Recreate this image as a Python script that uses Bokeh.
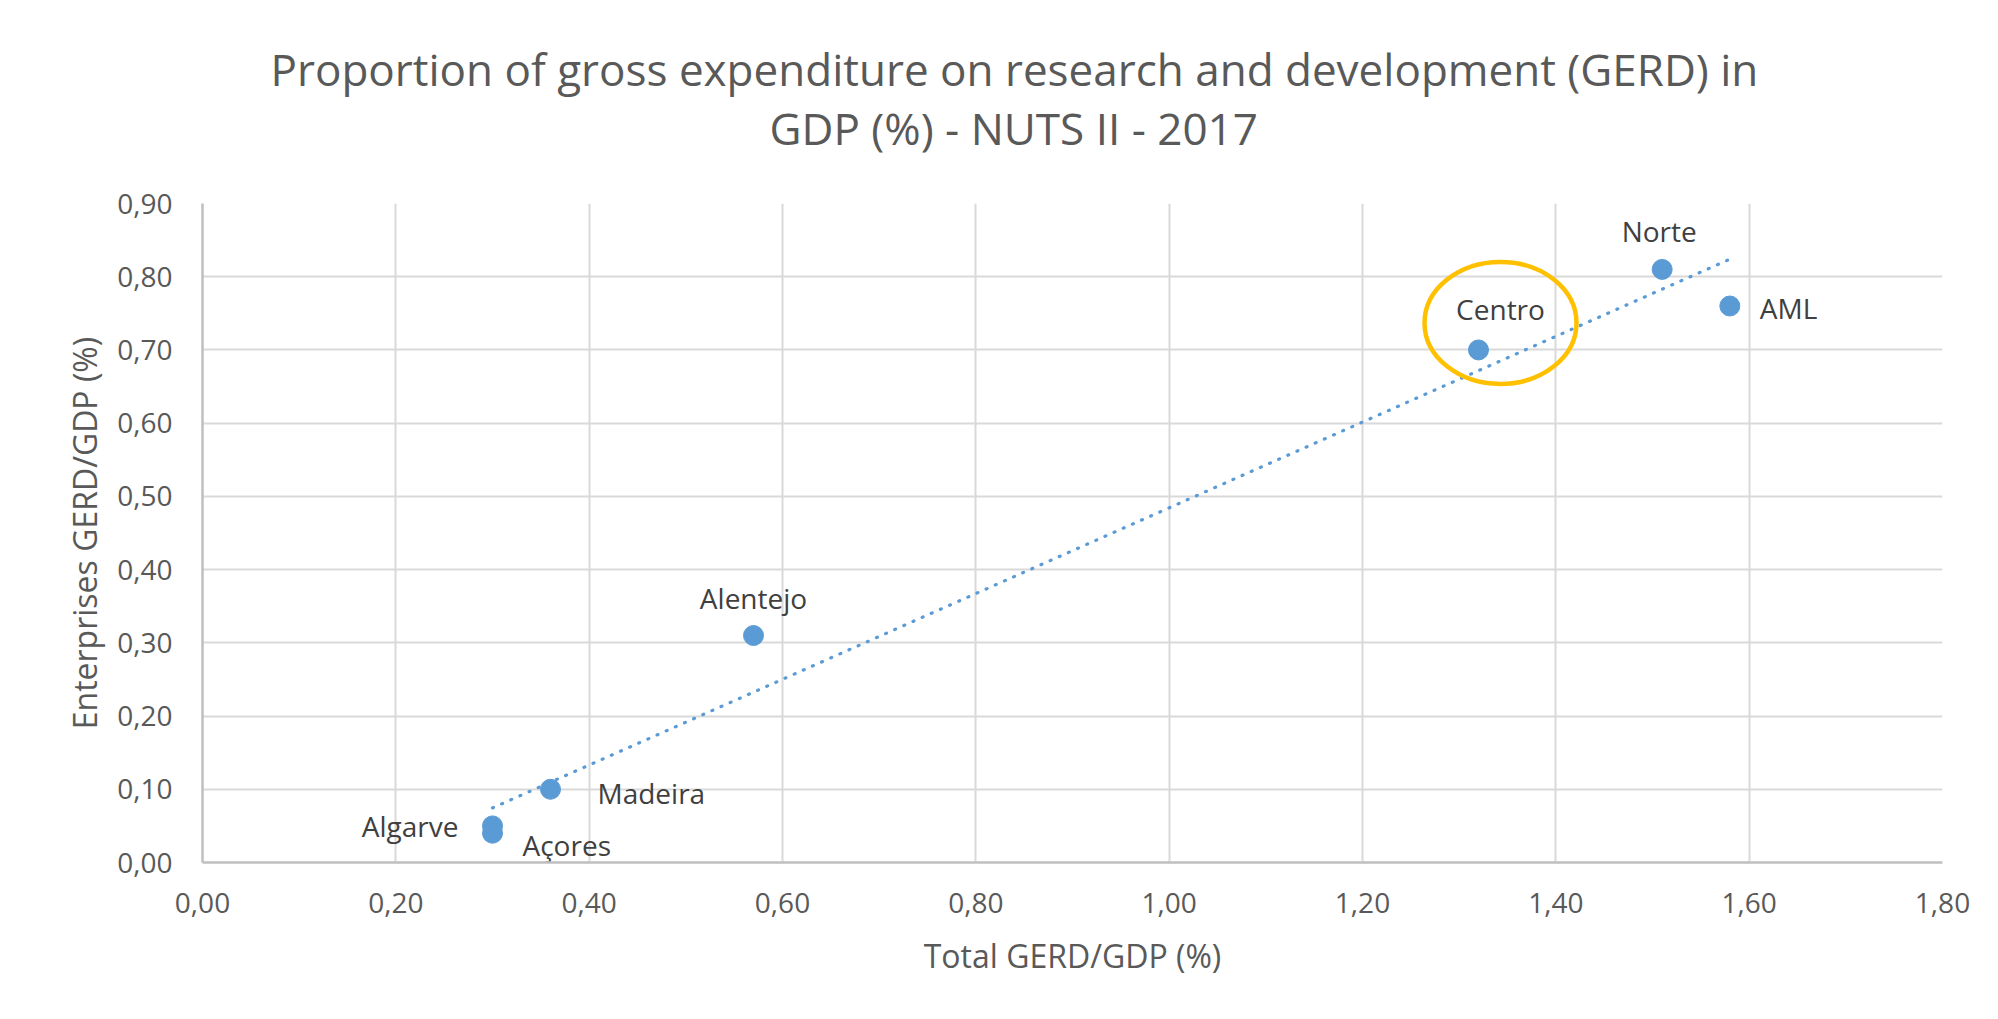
import numpy as np
from bokeh.plotting import figure
from bokeh.models import Range1d, FixedTicker, Title, ColumnDataSource, CustomJSTickFormatter
from bokeh.embed import file_html
from bokeh.resources import INLINE
from bokeh.core.properties import value

# ---------------- data ----------------
regions = ["Norte", "AML", "Centro", "Alentejo", "Madeira", "Algarve", "Açores"]
total_gerd = [1.51, 1.58, 1.32, 0.57, 0.36, 0.30, 0.30]
enterprise_gerd = [0.81, 0.76, 0.70, 0.31, 0.10, 0.05, 0.04]

x_ticks = [0.0, 0.2, 0.4, 0.6, 0.8, 1.0, 1.2, 1.4, 1.6, 1.8]
x_tick_labels = ["0,00", "0,20", "0,40", "0,60", "0,80", "1,00", "1,20", "1,40", "1,60", "1,80"]
y_ticks = [0.0, 0.1, 0.2, 0.3, 0.4, 0.5, 0.6, 0.7, 0.8, 0.9]
y_tick_labels = ["0,00", "0,10", "0,20", "0,30", "0,40", "0,50", "0,60", "0,70", "0,80", "0,90"]

title_line1 = "Proportion of gross expenditure on research and development (GERD) in"
title_line2 = "GDP (%) - NUTS II - 2017"
x_title = "Total GERD/GDP (%)"
y_title = "Enterprises GERD/GDP (%)"
highlighted_region = "Centro"

# ---------------- styles ----------------
FONT = "Open Sans"
BLUE = "#5B9BD5"
GOLD = "#FFC000"
TEXT_GREY = "#595959"
LABEL_GREY = "#404040"
GRID = "#D9D9D9"
AXIS = "#BFBFBF"

W, H = 1982, 1003
ML, MR, MT, MB = 202, 40, 203, 141
X_MIN, X_MAX = 0.0, 1.8
Y_MIN, Y_MAX = 0.0, 0.9

# label placement: (align, dx px, dy px downwards)
label_place = {
    "Norte": ("center", -3, -38),
    "AML": ("left", 30, 2),
    "Centro": ("center", 22, -41),
    "Alentejo": ("center", 0, -38),
    "Madeira": ("left", 47, 4),
    "Algarve": ("right", -34, 0),
    "Açores": ("left", 30, 12),
}
# highlight ellipse (screen px), relative to the highlighted point
ELL_DX, ELL_DY, ELL_W, ELL_H = 22, -27, 152, 122

p = figure(width=W, height=H, output_backend="svg", toolbar_location=None,
           x_range=Range1d(X_MIN, X_MAX), y_range=Range1d(Y_MIN, Y_MAX),
           min_border_left=ML, min_border_right=MR, min_border_top=MT, min_border_bottom=MB)
p.background_fill_color = "white"
p.border_fill_color = "white"
p.outline_line_color = None
p.title.visible = False

# titles (lower line added first; left-aligned with offsets so the block is centred on the chart)
t2 = Title(text=title_line2, align="left", offset=567, text_font=FONT, text_font_size="44px",
           text_font_style="normal", text_color=TEXT_GREY, standoff=92)
t1 = Title(text=title_line1, align="left", offset=68, text_font=FONT, text_font_size="44px",
           text_font_style="normal", text_color=TEXT_GREY, standoff=-98)
p.add_layout(t2, "above")
p.add_layout(t1, "above")

fmt_code = """
let best = 0;
for (let i = 0; i < tick_values.length; i++) {
  if (Math.abs(tick_values[i] - tick) < Math.abs(tick_values[best] - tick)) best = i;
}
return tick_labels[best];
"""
p.xaxis.ticker = FixedTicker(ticks=x_ticks)
p.yaxis.ticker = FixedTicker(ticks=y_ticks)
p.xaxis.formatter = CustomJSTickFormatter(args=dict(tick_values=x_ticks, tick_labels=x_tick_labels), code=fmt_code)
p.yaxis.formatter = CustomJSTickFormatter(args=dict(tick_values=y_ticks, tick_labels=y_tick_labels), code=fmt_code)
p.xgrid.ticker = FixedTicker(ticks=x_ticks)
p.ygrid.ticker = FixedTicker(ticks=y_ticks)

for ax in (p.xaxis, p.yaxis):
    ax.axis_line_color = AXIS
    ax.axis_line_width = 2.5
    ax.major_tick_line_color = None
    ax.minor_tick_line_color = None
    ax.major_label_text_font = FONT
    ax.major_label_text_font_size = "28px"
    ax.major_label_text_color = TEXT_GREY
    ax.axis_label_text_font = FONT
    ax.axis_label_text_font_size = "32px"
    ax.axis_label_text_font_style = "normal"
    ax.axis_label_text_color = TEXT_GREY
p.xaxis.axis_label = x_title
p.yaxis.axis_label = y_title
p.xaxis.major_label_standoff = 24
p.xaxis.axis_label_standoff = 18
p.yaxis.major_label_standoff = 24
p.yaxis.axis_label_standoff = 8

for g in (p.xgrid, p.ygrid):
    g.grid_line_color = GRID
    g.grid_line_width = 2

# trendline (linear least squares through the points)
coef = np.polyfit(total_gerd, enterprise_gerd, 1)
tx = [min(total_gerd), max(total_gerd)]
ty = [float(np.polyval(coef, v)) for v in tx]
p.line(tx, ty, line_color=BLUE, line_width=3.2, line_dash="1 9", line_cap="round")

# highlight ellipse around Centro
xpx = (W - ML - MR) / (X_MAX - X_MIN)
ypx = (H - MT - MB) / (Y_MAX - Y_MIN)
hi = regions.index(highlighted_region)
p.ellipse(x=[total_gerd[hi] + ELL_DX / xpx], y=[enterprise_gerd[hi] - ELL_DY / ypx],
          width=ELL_W, height=ELL_H, width_units="screen", height_units="screen",
          fill_color=None, line_color=GOLD, line_width=4.5)

# points
p.scatter(total_gerd, enterprise_gerd, size=20, marker="circle",
          fill_color=BLUE, line_color=BLUE, line_width=1)

# data labels
src = ColumnDataSource(dict(
    x=total_gerd, y=enterprise_gerd, name=regions,
    align=[label_place[r][0] for r in regions],
    dx=[label_place[r][1] for r in regions],
    dy=[label_place[r][2] for r in regions],
))
p.text(x="x", y="y", text="name", source=src, x_offset="dx", y_offset="dy",
       text_align="align", text_baseline="middle", text_font=value(FONT),
       text_font_size="28px", text_color=LABEL_GREY)

open("out.html", "w").write(file_html(p, INLINE))
